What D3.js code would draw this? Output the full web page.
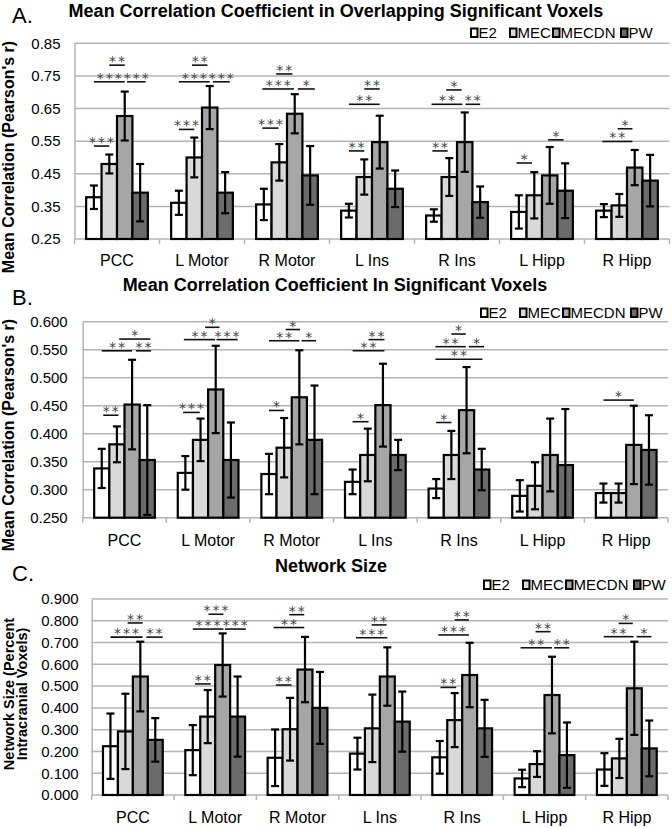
<!DOCTYPE html>
<html><head><meta charset="utf-8">
<script src="https://cdn.jsdelivr.net/npm/d3@7"></script>
<style>body{margin:0;background:#fff}</style>
</head><body><svg id="c" width="672" height="828"></svg>
<script>
// ---------- DATA ----------
const categories = ["PCC", "L Motor", "R Motor", "L Ins", "R Ins", "L Hipp", "R Hipp"];
const series = ["E2", "MEC", "MECDN", "PW"];
const seriesColors = ["#ffffff", "#d9d9d9", "#a6a6a6", "#6b6b6b"];

// Panel A: Mean correlation in overlapping significant voxels
const aE2    = [0.378, 0.361, 0.356, 0.337, 0.322, 0.333, 0.337];
const aMEC   = [0.480, 0.500, 0.485, 0.440, 0.440, 0.384, 0.353];
const aMECDN = [0.627, 0.653, 0.634, 0.547, 0.547, 0.445, 0.469];
const aPW    = [0.392, 0.392, 0.445, 0.404, 0.363, 0.398, 0.429];
const aErrE2    = [0.036, 0.037, 0.048, 0.021, 0.019, 0.051, 0.020];
const aErrMEC   = [0.029, 0.061, 0.056, 0.054, 0.058, 0.071, 0.035];
const aErrMECDN = [0.075, 0.066, 0.060, 0.081, 0.091, 0.087, 0.054];
const aErrPW    = [0.088, 0.063, 0.090, 0.056, 0.048, 0.084, 0.079];
const aTicks = [0.25, 0.35, 0.45, 0.55, 0.65, 0.75, 0.85];
// significance brackets: [category, from bar, to bar, level, stars]
const aSig = [
  ["PCC", 1, 2, 0.783, "**"], ["PCC", 0, 2, 0.732, "***"], ["PCC", 2.15, 3.35, 0.732, "***"], ["PCC", 0, 1, 0.535, "***"],
  ["L Motor", 0.85, 1.85, 0.783, "**"], ["L Motor", 0, 2, 0.732, "***"], ["L Motor", 2.2, 3.3, 0.732, "***"], ["L Motor", 0, 1, 0.586, "***"],
  ["R Motor", 0.8, 1.85, 0.756, "**"], ["R Motor", -0.1, 1.95, 0.71, "***"], ["R Motor", 2.2, 3.3, 0.71, "*"], ["R Motor", -0.1, 0.95, 0.59, "***"],
  ["L Ins", 1, 2, 0.71, "**"], ["L Ins", 0, 2, 0.663, "**"], ["L Ins", 0, 1, 0.52, "**"],
  ["R Ins", 0.8, 1.8, 0.707, "*"], ["R Ins", -0.15, 1.85, 0.663, "**"], ["R Ins", 2.05, 3.0, 0.663, "**"], ["R Ins", -0.1, 0.9, 0.52, "**"],
  ["L Hipp", -0.15, 0.85, 0.483, "*"], ["L Hipp", 1.9, 2.9, 0.554, "*"],
  ["R Hipp", 0.9, 1.85, 0.588, "*"], ["R Hipp", -0.1, 1.85, 0.549, "**"]
];

// Panel B: Mean correlation in significant voxels
const bE2    = [0.338, 0.330, 0.328, 0.314, 0.302, 0.289, 0.294];
const bMEC   = [0.381, 0.389, 0.375, 0.362, 0.362, 0.307, 0.294];
const bMECDN = [0.452, 0.479, 0.465, 0.451, 0.442, 0.362, 0.380];
const bPW    = [0.353, 0.353, 0.389, 0.362, 0.336, 0.344, 0.371];
const bErrE2    = [0.035, 0.030, 0.036, 0.022, 0.017, 0.028, 0.017];
const bErrMEC   = [0.032, 0.038, 0.053, 0.047, 0.043, 0.042, 0.017];
const bErrMECDN = [0.080, 0.078, 0.084, 0.074, 0.077, 0.065, 0.070];
const bErrPW    = [0.098, 0.067, 0.097, 0.027, 0.037, 0.100, 0.062];
const bTicks = [0.25, 0.30, 0.35, 0.40, 0.45, 0.50, 0.55, 0.60];
const bSig = [
  ["PCC", 1.15, 3.2, 0.569, "*"], ["PCC", 0, 2, 0.548, "**"], ["PCC", 2.25, 3.25, 0.548, "**"], ["PCC", 0.1, 1.1, 0.433, "**"],
  ["L Motor", 1.3, 2.25, 0.590, "*"], ["L Motor", -0.1, 1.95, 0.568, "**"], ["L Motor", 2.05, 3.45, 0.568, "***"], ["L Motor", -0.15, 0.95, 0.438, "***"],
  ["R Motor", 1.1, 2.05, 0.586, "*"], ["R Motor", 0, 2, 0.566, "**"], ["R Motor", 2.15, 3.1, 0.566, "*"], ["R Motor", 0, 1, 0.4415, "*"],
  ["L Ins", 1.05, 2.1, 0.568, "**"], ["L Ins", 0, 2.1, 0.548, "**"], ["L Ins", 0, 1.05, 0.4214, "*"],
  ["R Ins", 1, 1.95, 0.578, "*"], ["R Ins", -0.05, 1.95, 0.5554, "**"], ["R Ins", 2.15, 3.15, 0.5554, "*"], ["R Ins", -0.05, 3.05, 0.533, "**"], ["R Ins", 0, 1, 0.420, "*"],
  ["R Hipp", 0, 2, 0.460, "*"]
];

// Panel C: Network size
const cE2    = [0.224, 0.206, 0.171, 0.190, 0.173, 0.076, 0.117];
const cMEC   = [0.292, 0.360, 0.302, 0.306, 0.344, 0.142, 0.168];
const cMECDN = [0.544, 0.597, 0.576, 0.544, 0.551, 0.459, 0.490];
const cPW    = [0.253, 0.360, 0.400, 0.337, 0.306, 0.183, 0.214];
const cErrE2    = [0.150, 0.115, 0.130, 0.073, 0.075, 0.040, 0.075];
const cErrMEC   = [0.173, 0.122, 0.144, 0.155, 0.124, 0.059, 0.090];
const cErrMECDN = [0.160, 0.145, 0.150, 0.134, 0.148, 0.176, 0.214];
const cErrPW    = [0.100, 0.184, 0.165, 0.138, 0.131, 0.150, 0.128];
const cTicks = [0.0, 0.1, 0.2, 0.3, 0.4, 0.5, 0.6, 0.7, 0.8, 0.9];
const cSig = [
  ["PCC", 1.15, 2.15, 0.79, "**"], ["PCC", 0, 2.15, 0.725, "***"], ["PCC", 2.4, 3.5, 0.725, "**"],
  ["L Motor", 1.05, 2.05, 0.83, "***"], ["L Motor", 0, 2.05, 0.762, "***"], ["L Motor", 2.15, 3.55, 0.762, "***"], ["L Motor", 0.15, 1.2, 0.51, "**"],
  ["R Motor", 0.95, 1.95, 0.828, "**"], ["R Motor", -0.1, 1.95, 0.769, "**"], ["R Motor", 0.05, 1.1, 0.505, "**"],
  ["L Ins", 0.95, 1.95, 0.781, "**"], ["L Ins", -0.1, 2, 0.722, "***"],
  ["R Ins", 1, 1.95, 0.804, "**"], ["R Ins", -0.1, 1.95, 0.735, "***"], ["R Ins", 0.05, 1.1, 0.494, "**"],
  ["L Hipp", 0.9, 1.9, 0.750, "**"], ["L Hipp", -0.1, 2, 0.676, "**"], ["L Hipp", 2.15, 3.15, 0.676, "**"],
  ["R Hipp", 0.95, 1.9, 0.788, "*"], ["R Hipp", -0.05, 1.95, 0.727, "**"], ["R Hipp", 2.15, 3.15, 0.727, "*"]
];

// ---------- DRAWING ----------
const FONT = "'Liberation Sans', Arial, Helvetica, sans-serif";
const svg = d3.select("#c");
const GRID = "#b4b4b4";

function drawPanel(cfg) {
  const g = svg.append("g");
  const x0 = d3.scaleBand().domain(categories).range([cfg.left, cfg.right]).padding(0);
  const bw = x0.bandwidth();
  const x1 = d3.scaleBand().domain(series).range([bw * 0.137, bw * 0.863]).padding(0);
  const y = d3.scaleLinear().domain([cfg.ticks[0], cfg.ticks[cfg.ticks.length - 1]]).range([cfg.bottom, cfg.top]);
  const ymin = cfg.ticks[0];

  // gridlines
  g.selectAll("line.grid").data(cfg.ticks.slice(1)).join("line")
    .attr("x1", cfg.left).attr("x2", cfg.right)
    .attr("y1", d => y(d)).attr("y2", d => y(d))
    .attr("stroke", GRID).attr("stroke-width", 1.5);

  // y axis
  const ya = g.append("g").attr("transform", `translate(${cfg.left},0)`)
    .call(d3.axisLeft(y).tickValues(cfg.ticks).tickFormat(d3.format(cfg.fmt)).tickSize(0).tickPadding(cfg.tickPad));
  ya.select(".domain").attr("stroke", GRID).attr("stroke-width", 1.5);
  ya.selectAll("text").attr("font-family", FONT).attr("font-size", 15).attr("fill", "#000");

  // x axis line + boundary ticks
  g.append("line").attr("x1", cfg.left).attr("x2", cfg.right).attr("y1", y(ymin)).attr("y2", y(ymin))
    .attr("stroke", GRID).attr("stroke-width", 1.5);
  const bounds = categories.map(c => x0(c)).concat([cfg.right]);
  g.selectAll("line.bt").data(bounds).join("line")
    .attr("x1", d => d).attr("x2", d => d).attr("y1", y(ymin)).attr("y2", y(ymin) + 5)
    .attr("stroke", GRID).attr("stroke-width", 1.5);
  g.selectAll("text.cat").data(categories).join("text")
    .attr("x", d => x0(d) + bw / 2).attr("y", cfg.catY)
    .attr("text-anchor", "middle").attr("font-family", FONT).attr("font-size", 16).text(d => d);

  // bars
  series.forEach((s, si) => {
    const vals = cfg.means[si], errs = cfg.errs[si];
    const rows = categories.map((c, i) => ({ c, v: vals[i], e: errs[i] }));
    g.selectAll(null).data(rows).join("rect")
      .attr("x", d => x0(d.c) + x1(s)).attr("width", x1.bandwidth())
      .attr("y", d => y(d.v)).attr("height", d => y(ymin) - y(d.v))
      .attr("fill", seriesColors[si]).attr("stroke", "#000").attr("stroke-width", 2.2);
  });
  // error bars
  series.forEach((s, si) => {
    const vals = cfg.means[si], errs = cfg.errs[si];
    const rows = categories.map((c, i) => ({ c, v: vals[i], e: errs[i] }));
    const eg = g.selectAll(null).data(rows).join("g")
      .attr("transform", d => `translate(${x0(d.c) + x1(s) + x1.bandwidth() / 2},0)`);
    eg.append("line").attr("x1", 0).attr("x2", 0)
      .attr("y1", d => y(Math.max(ymin, d.v - d.e))).attr("y2", d => y(d.v + d.e))
      .attr("stroke", "#000").attr("stroke-width", 2.2);
    eg.append("line").attr("x1", -4).attr("x2", 4)
      .attr("y1", d => y(d.v + d.e)).attr("y2", d => y(d.v + d.e))
      .attr("stroke", "#000").attr("stroke-width", 2.2);
    eg.append("line").attr("x1", -4).attr("x2", 4)
      .attr("y1", d => y(Math.max(ymin, d.v - d.e))).attr("y2", d => y(Math.max(ymin, d.v - d.e)))
      .attr("stroke", "#000").attr("stroke-width", 2.2);
  });

  // significance brackets
  const bx = (c, p) => x0(c) + x1.range()[0] + (p + 0.5) * x1.bandwidth();
  const sg = g.selectAll(null).data(cfg.sig).join("g");
  sg.append("line")
    .attr("x1", d => bx(d[0], d[1])).attr("x2", d => bx(d[0], d[2]))
    .attr("y1", d => y(d[3])).attr("y2", d => y(d[3]))
    .attr("stroke", "#111").attr("stroke-width", 1.6);
  sg.append("text")
    .attr("x", d => (bx(d[0], d[1]) + bx(d[0], d[2])) / 2 + 1)
    .attr("y", d => y(d[3]) + 1)
    .attr("text-anchor", "middle")
    .attr("font-family", "'DejaVu Sans', sans-serif").attr("font-size", 14)
    .attr("letter-spacing", 2).attr("fill", "#444").text(d => d[4]);

  // title & panel letter
  svg.append("text").attr("x", cfg.titleX).attr("y", cfg.titleY).attr("text-anchor", "middle")
    .attr("font-family", FONT).attr("font-weight", "bold").attr("font-size", 18).text(cfg.title);
  svg.append("text").attr("x", 12).attr("y", cfg.letterY)
    .attr("font-family", FONT).attr("font-size", 22).text(cfg.letter);

  // legend
  const legOff = [0, 39, 82, 150];
  const lg = svg.append("g").attr("transform", `translate(${cfg.legX},${cfg.legY})`);
  series.forEach((s, si) => {
    lg.append("rect").attr("x", legOff[si] + 1).attr("y", -9.5).attr("width", 6.5).attr("height", 8.5)
      .attr("fill", seriesColors[si]).attr("stroke", "#000").attr("stroke-width", 2);
    lg.append("text").attr("x", legOff[si] + 8.5).attr("y", 0)
      .attr("font-family", FONT).attr("font-size", 15).text(s);
  });

  // y axis title
  cfg.yLabel.forEach((t, k) => {
    svg.append("text")
      .attr("transform", `translate(${cfg.yLabelX[k]},${cfg.yLabelY}) rotate(-90)`)
      .attr("text-anchor", "middle").attr("font-family", FONT).attr("font-weight", "bold")
      .attr("font-size", cfg.yLabelSize).text(t);
  });
}

drawPanel({
  left: 74.5, right: 669.5, top: 43.3, bottom: 239, ticks: aTicks, fmt: ".2f", tickPad: 14,
  means: [aE2, aMEC, aMECDN, aPW], errs: [aErrE2, aErrMEC, aErrMECDN, aErrPW], sig: aSig,
  catY: 266, title: "Mean Correlation Coefficient in Overlapping Significant Voxels", titleX: 336, titleY: 17,
  letter: "A.", letterY: 23, legX: 470, legY: 38,
  yLabel: ["Mean Correlation (Pearson's r)"], yLabelX: [14], yLabelY: 157, yLabelSize: 16
});
drawPanel({
  left: 82.7, right: 668, top: 321.7, bottom: 517.7, ticks: bTicks, fmt: ".3f", tickPad: 15,
  means: [bE2, bMEC, bMECDN, bPW], errs: [bErrE2, bErrMEC, bErrMECDN, bErrPW], sig: bSig,
  catY: 546, title: "Mean Correlation Coefficient In Significant Voxels", titleX: 335, titleY: 291,
  letter: "B.", letterY: 305, legX: 480, legY: 318,
  yLabel: ["Mean Correlation (Pearson's r)"], yLabelX: [14], yLabelY: 435, yLabelSize: 16
});
drawPanel({
  left: 91.7, right: 668, top: 599, bottom: 795, ticks: cTicks, fmt: ".3f", tickPad: 13,
  means: [cE2, cMEC, cMECDN, cPW], errs: [cErrE2, cErrMEC, cErrMECDN, cErrPW], sig: cSig,
  catY: 823, title: "Network Size", titleX: 331, titleY: 572,
  letter: "C.", letterY: 581, legX: 483, legY: 590,
  yLabel: ["Network Size (Percent", "Intracranial Voxels)"], yLabelX: [13.5, 26.5], yLabelY: 694, yLabelSize: 14.5
});
</script>
</body></html>
